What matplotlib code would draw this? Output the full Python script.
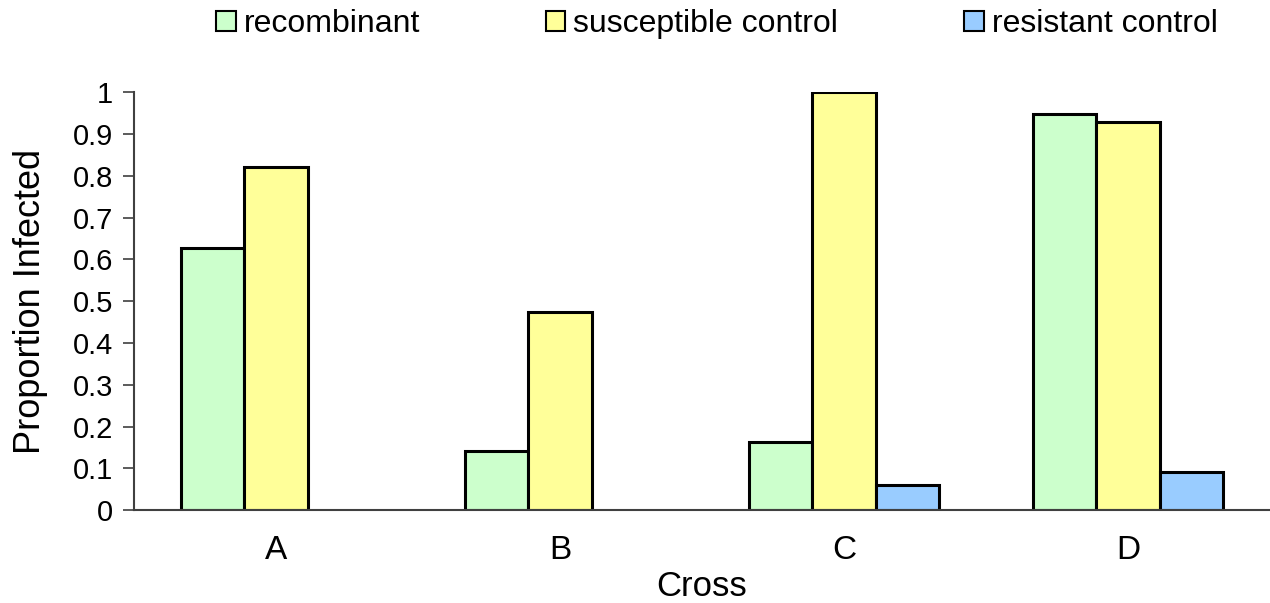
import numpy as np
import matplotlib.pyplot as plt
from matplotlib.patches import Patch

plt.rcParams['font.family'] = ['Liberation Sans', 'DejaVu Sans']

crosses = ["A", "B", "C", "D"]
series = ["recombinant", "susceptible control", "resistant control"]
recombinant = [0.627, 0.142, 0.163, 0.948]
susceptible = [0.821, 0.474, 1.0, 0.928]
resistant = [0.0, 0.0, 0.061, 0.091]
colors = ["#CCFFCC", "#FFFF99", "#99CCFF"]

fig = plt.figure(figsize=(12.7, 6.03), dpi=100)
ax = fig.add_axes([0.1055, 0.154, 0.8945, 0.693])

x = np.arange(len(crosses))
w = 0.222
for i, (vals, c) in enumerate(zip([recombinant, susceptible, resistant], colors)):
    vals = np.array(vals)
    keep = vals > 0
    ax.bar(x[keep] + (i - 1) * w, vals[keep], w, color=c,
           edgecolor="black", linewidth=2.2)

ax.set_xlim(-0.5, 3.5)
ax.set_ylim(0, 1)
ax.set_yticks(np.arange(0, 1.01, 0.1))
ax.set_yticklabels(["0"] + ["%.1f" % v for v in np.arange(0.1, 0.95, 0.1)] + ["1"])
ax.set_xticks(x)
ax.set_xticklabels(crosses)
ax.tick_params(axis="y", labelsize=21, length=8, width=1.2, colors="#404040",
               labelcolor="black", pad=7)
ax.tick_params(axis="x", labelsize=24, length=0, pad=18)
for s in ["top", "right"]:
    ax.spines[s].set_visible(False)
for s in ["left", "bottom"]:
    ax.spines[s].set_color("#404040")
    ax.spines[s].set_linewidth(1.5)

ax.set_ylabel("Proportion Infected", fontsize=26, labelpad=18)
ax.set_xlabel("Cross", fontsize=25, labelpad=3)

handles = [Patch(facecolor=c, edgecolor="black", linewidth=1.5) for c in colors]
fig.legend(handles, series, loc="upper center", bbox_to_anchor=(0.5645, 1.032),
           ncol=3, frameon=False, fontsize=23, handlelength=0.6,
           handleheight=0.6, handletextpad=0.25, columnspacing=3.95)

fig.savefig("out.png", dpi=100)
